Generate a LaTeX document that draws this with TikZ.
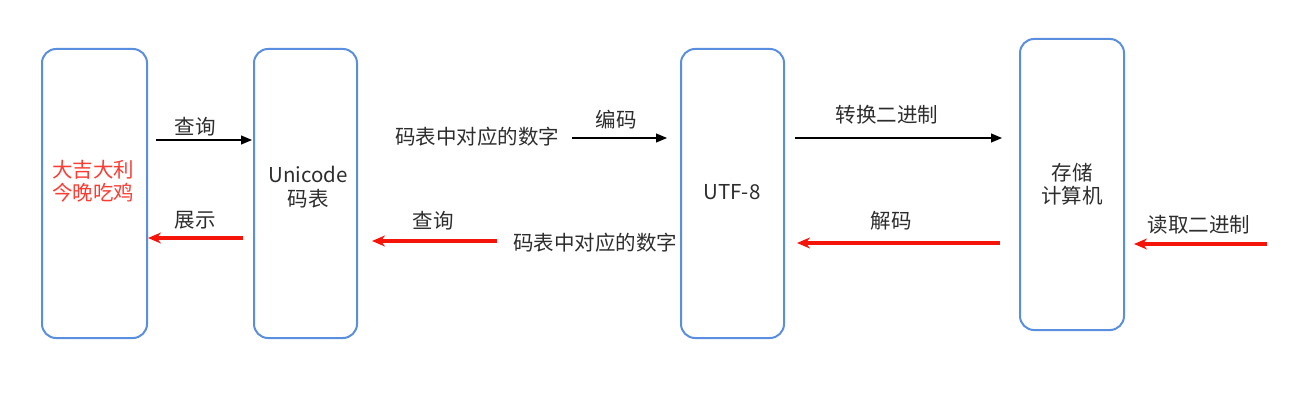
\documentclass[tikz,border=0pt]{standalone}
\usepackage{fontspec}
\setmainfont{Noto Sans CJK SC}
\usetikzlibrary{arrows.meta}
\definecolor{boxblue}{RGB}{90,142,222}
\definecolor{arrred}{RGB}{245,20,10}
\definecolor{txtred}{RGB}{250,60,50}
\definecolor{txt}{RGB}{45,45,45}
\begin{document}
\begin{tikzpicture}[x=1pt,y=-1pt,
  box/.style={draw=boxblue, line width=2pt, rounded corners=14pt, inner sep=0pt},
  lbl/.style={text=txt, font=\fontsize{20.5}{23.5}\selectfont, inner sep=0pt, align=center},
  fwd/.style={-{Triangle[length=11pt,width=9pt]}, line width=1.1pt, black},
  back/.style={-{Stealth[length=13pt,width=11pt]}, line width=3.2pt, arrred}]
\useasboundingbox (0,0) rectangle (1313,403);
% boxes
\node[box, minimum width=105pt, minimum height=289pt] (A) at (94.5,193.5) {};
\node[box, minimum width=103pt, minimum height=289pt] (B) at (305.5,193.5) {};
\node[box, minimum width=103pt, minimum height=289pt] (C) at (732.5,193.5) {};
\node[box, minimum width=104pt, minimum height=291pt] (D) at (1072,184.5) {};
% box texts
\node[lbl, text=txtred] (tA) at (93,181) {大吉大利\\今晚吃鸡};
\node[lbl] (tB) at (308,187) {Unicode\\码表};
\node[lbl] (tC) at (732,192) {UTF-8};
\node[lbl] (tD) at (1072,184) {存储\\计算机};
% labels
\node[lbl] (l1) at (195,127) {查询};
\node[lbl] (l2) at (195,220) {展示};
\node[lbl] (l3) at (477,137) {码表中对应的数字};
\node[lbl] (l4) at (616,120) {编码};
\node[lbl] (l5) at (433,221) {查询};
\node[lbl] (l6) at (595,243) {码表中对应的数字};
\node[lbl] (l7) at (887,115) {转换二进制};
\node[lbl] (l8) at (891,221) {解码};
\node[lbl] (l9) at (1199,225) {读取二进制};
% arrow ends
\coordinate (a1s) at (156,140); \coordinate (a1e) at (252,140);
\coordinate (a2s) at (243,238); \coordinate (a2e) at (148,238);
\coordinate (a3s) at (572,138); \coordinate (a3e) at (667,138);
\coordinate (a4s) at (497,241); \coordinate (a4e) at (372,241);
\coordinate (a5s) at (795,138); \coordinate (a5e) at (1002,138);
\coordinate (a6s) at (1000,243); \coordinate (a6e) at (797,243);
\coordinate (a7s) at (1267,244); \coordinate (a7e) at (1134,244);
\draw[fwd] (a1s) -- (a1e);
\draw[back] (a2s) -- (a2e);
\draw[fwd] (a3s) -- (a3e);
\draw[back] (a4s) -- (a4e);
\draw[fwd] (a5s) -- (a5e);
\draw[back] (a6s) -- (a6e);
\draw[back] (a7s) -- (a7e);
\end{tikzpicture}
\end{document}
